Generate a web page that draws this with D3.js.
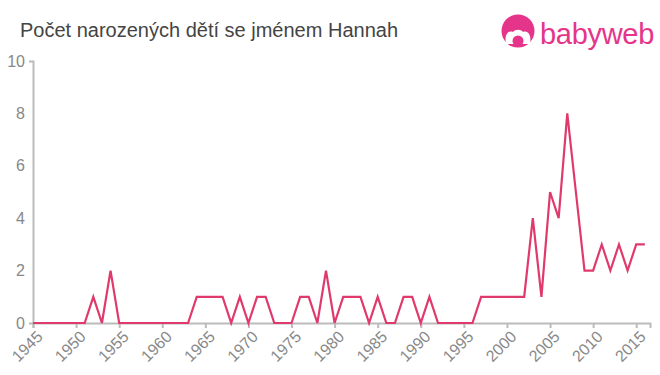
<!DOCTYPE html>
<html>
<head>
<meta charset="utf-8">
<script src="https://cdn.jsdelivr.net/npm/d3@7"></script>
<style>
  body { margin: 0; background: #fff; }
  svg { display: block; font-family: "Liberation Sans", Arial, sans-serif; }
</style>
</head>
<body>
<div id="chart"></div>
<script>
// Data
const years = d3.range(1945, 2017);
const counts = [
  0, 0, 0, 0, 0, 0, 0, 1, 0, 2,        // 1945-1954
  0, 0, 0, 0, 0, 0, 0, 0, 0, 1,        // 1955-1964
  1, 1, 1, 0, 1, 0, 1, 1, 0, 0,        // 1965-1974
  0, 1, 1, 0, 2, 0, 1, 1, 1, 0,        // 1975-1984
  1, 0, 0, 1, 1, 0, 1, 0, 0, 0,        // 1985-1994
  0, 0, 1, 1, 1, 1, 1, 1, 4, 1,        // 1995-2004
  5, 4, 8, 5, 2, 2, 3, 2, 3, 2,        // 2005-2014
  3, 3                                 // 2015-2016
];
const xTicks = [1945, 1950, 1955, 1960, 1965, 1970, 1975, 1980, 1985, 1990, 1995, 2000, 2005, 2010, 2015];
const yTicks = [0, 2, 4, 6, 8, 10];
const title = "Počet narozených dětí se jménem Hannah";

const width = 660, height = 375;
const margin = { top: 61, right: 10, bottom: 52, left: 33 };

const svg = d3.select("#chart")
  .append("svg")
  .attr("width", width)
  .attr("height", height);

const x = d3.scaleLinear()
  .domain([1945, 2016.6])
  .range([margin.left, width - margin.right]);

const y = d3.scaleLinear()
  .domain([0, 10])
  .range([height - margin.bottom, margin.top]);

// Title
svg.append("text")
  .attr("x", 20)
  .attr("y", 37)
  .attr("fill", "#444")
  .style("font-size", "20px")
  .text(title);

// Logo
const logo = svg.append("g").attr("transform", "translate(518, 31)");
logo.append("circle").attr("r", 16.5).attr("fill", "#e5358a");
logo.append("path")
  .attr("d", "M-12,13 C-14,3 -9,-1 -5,1 C-3,-2 3,-2 5,1 C9,-1 14,3 12,13 Z")
  .attr("fill", "#fff");
logo.append("circle").attr("cx", 0).attr("cy", 10).attr("r", 5.5).attr("fill", "#e5358a");
svg.append("text")
  .attr("x", 540)
  .attr("y", 44)
  .attr("fill", "#e5358a")
  .style("font-size", "29px")
  .style("letter-spacing", "-0.3px")
  .text("babyweb");

// Y axis
const yAxis = svg.append("g")
  .attr("transform", `translate(${margin.left}, 0)`)
  .call(d3.axisLeft(y).tickValues(yTicks).tickSizeInner(0).tickSizeOuter(4).tickPadding(8));
yAxis.select(".domain").attr("stroke", "#bbb").attr("stroke-width", 2);
yAxis.selectAll("text").attr("fill", "#888").style("font-size", "16px");

// X axis
const xAxis = svg.append("g")
  .attr("transform", `translate(0, ${height - margin.bottom})`)
  .call(d3.axisBottom(x).tickValues(xTicks).tickFormat(d3.format("d")).tickSizeOuter(0).tickSize(5));
xAxis.select(".domain").attr("stroke", "#bbb").attr("stroke-width", 2);
xAxis.selectAll(".tick line").attr("stroke", "#bbb").attr("stroke-width", 2);
xAxis.selectAll("text")
  .attr("fill", "#888")
  .style("font-size", "16px")
  .style("text-anchor", "end")
  .attr("dx", "-0.2em")
  .attr("dy", "0.6em")
  .attr("transform", "rotate(-45)");

// Line
const line = d3.line()
  .x((d, i) => x(years[i]))
  .y(d => y(d));

svg.append("path")
  .datum(counts)
  .attr("fill", "none")
  .attr("stroke", "#e03a6c")
  .attr("stroke-width", 2.2)
  .attr("stroke-linejoin", "miter")
  .attr("d", line);
</script>
</body>
</html>
